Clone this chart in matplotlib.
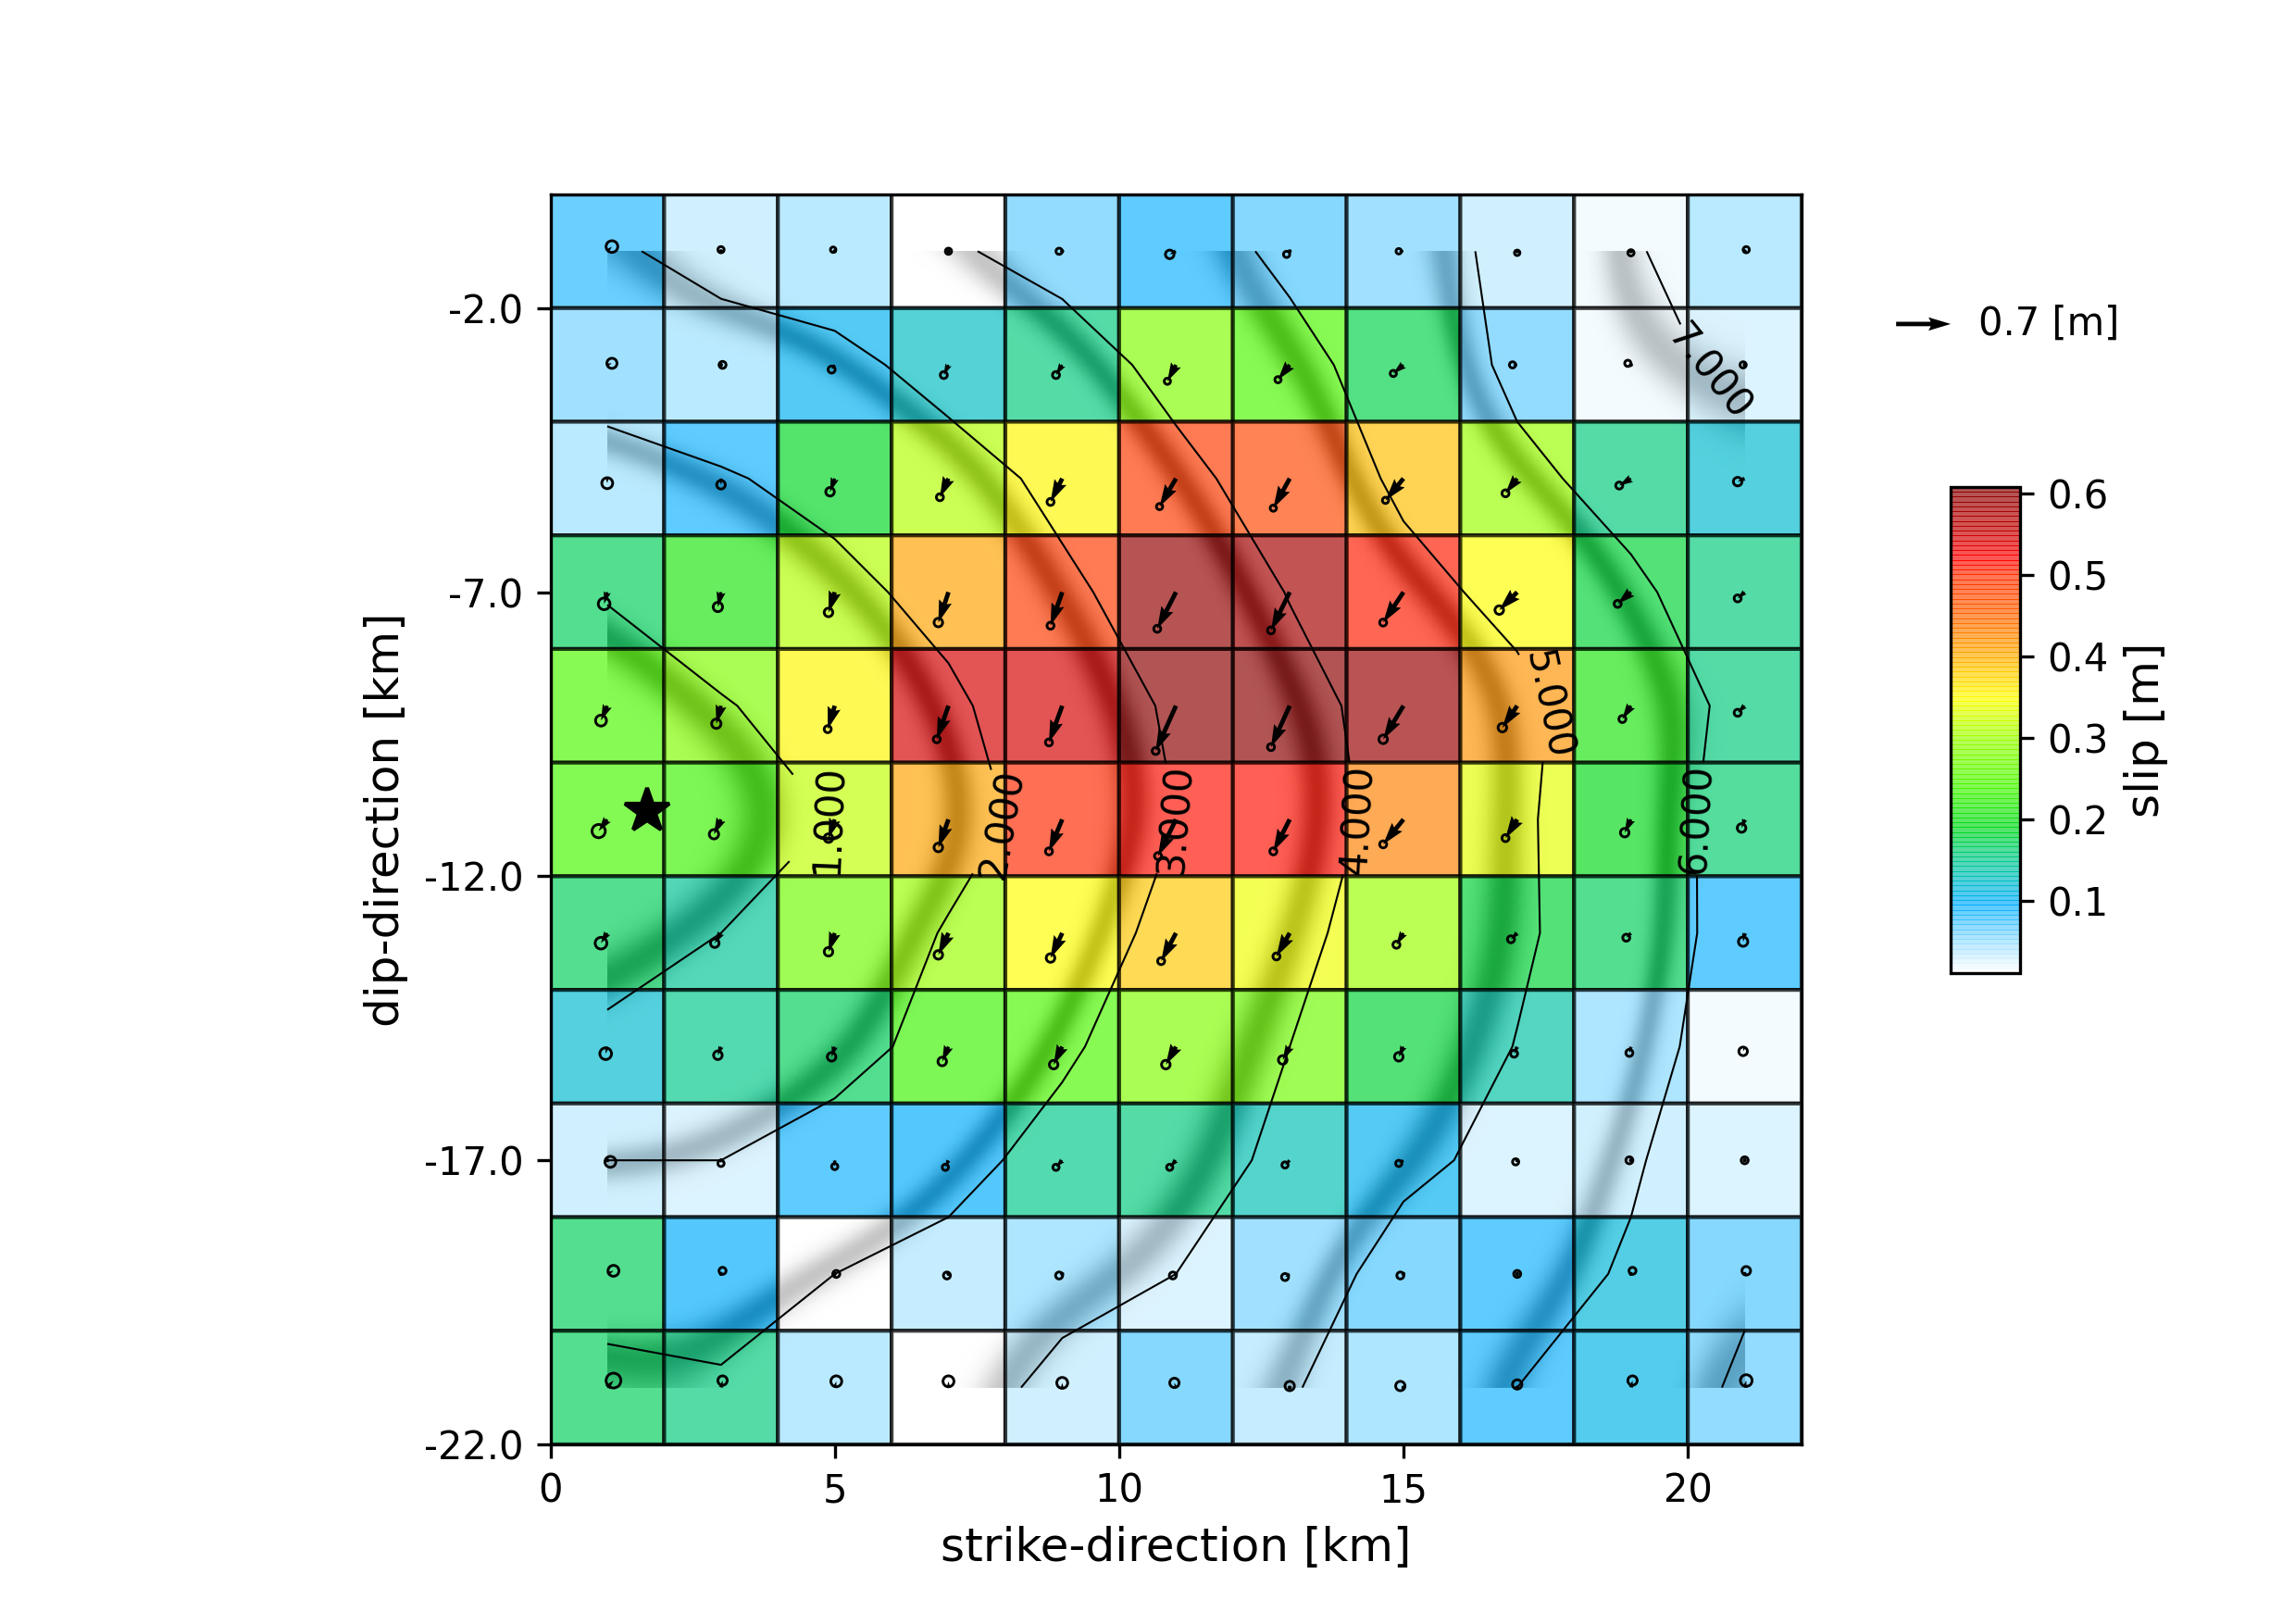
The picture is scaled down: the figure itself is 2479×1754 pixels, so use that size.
import numpy as np
import matplotlib
matplotlib.use("Agg")
import matplotlib.pyplot as plt
from matplotlib.collections import EllipseCollection
from matplotlib.colors import LinearSegmentedColormap, ListedColormap, Normalize
from matplotlib.colorbar import ColorbarBase
from matplotlib.patches import Rectangle

# patch centres [km]
strike_km = [1, 3, 5, 7, 9, 11, 13, 15, 17, 19, 21]
dip_km = [-1, -3, -5, -7, -9, -11, -13, -15, -17, -19, -21]
hypo_strike = 1.7
hypo_dip = -10.85
xtick_vals = [0, 5, 10, 15, 20]
ytick_vals = [-2, -7, -12, -17, -22]
cbar_ticks = [0.1, 0.2, 0.3, 0.4, 0.5, 0.6]

# slip per patch [m], top row first
slip = [
    [0.085, 0.040, 0.050, 0.012, 0.070, 0.090, 0.075, 0.065, 0.040, 0.020, 0.050],
    [0.060, 0.050, 0.105, 0.130, 0.160, 0.280, 0.250, 0.175, 0.070, 0.020, 0.035],
    [0.050, 0.090, 0.190, 0.310, 0.355, 0.490, 0.480, 0.390, 0.300, 0.160, 0.125],
    [0.170, 0.210, 0.310, 0.410, 0.490, 0.600, 0.580, 0.510, 0.350, 0.180, 0.155],
    [0.250, 0.280, 0.355, 0.545, 0.545, 0.605, 0.605, 0.590, 0.420, 0.210, 0.160],
    [0.240, 0.235, 0.320, 0.410, 0.505, 0.515, 0.515, 0.430, 0.335, 0.195, 0.165],
    [0.170, 0.145, 0.270, 0.300, 0.350, 0.385, 0.340, 0.300, 0.180, 0.170, 0.095],
    [0.120, 0.150, 0.170, 0.235, 0.250, 0.280, 0.270, 0.180, 0.140, 0.055, 0.020],
    [0.040, 0.035, 0.095, 0.100, 0.150, 0.155, 0.135, 0.105, 0.030, 0.040, 0.030],
    [0.170, 0.100, 0.012, 0.045, 0.055, 0.030, 0.060, 0.075, 0.090, 0.115, 0.075],
    [0.170, 0.155, 0.050, 0.012, 0.040, 0.075, 0.045, 0.055, 0.095, 0.110, 0.070],
]

# slip vector components [m]
slip_u = [
    [0.06, 0.00, -0.02, 0.00, -0.04, -0.08, -0.04, -0.06, 0.00, 0.00, 0.02],
    [0.06, 0.02, -0.04, -0.06, -0.08, -0.11, -0.15, -0.13, -0.06, -0.04, -0.02],
    [0.00, 0.00, -0.06, -0.11, -0.15, -0.21, -0.21, -0.23, -0.15, -0.15, -0.09],
    [-0.04, -0.04, -0.08, -0.13, -0.15, -0.24, -0.24, -0.26, -0.23, -0.17, -0.09],
    [-0.08, -0.06, -0.09, -0.15, -0.17, -0.26, -0.24, -0.26, -0.19, -0.11, -0.09],
    [-0.11, -0.09, -0.08, -0.13, -0.17, -0.23, -0.21, -0.26, -0.15, -0.08, -0.04],
    [-0.08, -0.08, -0.08, -0.13, -0.15, -0.19, -0.17, -0.09, -0.08, -0.06, -0.02],
    [-0.02, -0.04, -0.04, -0.08, -0.11, -0.13, -0.09, -0.06, -0.04, -0.02, -0.02],
    [0.04, 0.00, 0.00, -0.04, -0.08, -0.08, -0.06, -0.06, -0.02, -0.02, 0.00],
    [0.08, 0.02, 0.02, -0.02, -0.04, -0.04, -0.06, -0.04, 0.00, 0.02, 0.02],
    [0.08, 0.02, 0.02, 0.00, 0.00, -0.02, 0.00, -0.04, 0.00, 0.02, 0.02],
]
slip_v = [
    [0.06, 0.02, 0.02, 0.00, 0.00, -0.04, -0.04, 0.00, -0.02, -0.02, 0.02],
    [0.02, 0.00, -0.06, -0.13, -0.13, -0.21, -0.19, -0.11, 0.00, 0.02, 0.00],
    [-0.06, -0.08, -0.17, -0.24, -0.30, -0.36, -0.38, -0.28, -0.19, -0.09, -0.04],
    [-0.15, -0.19, -0.26, -0.39, -0.43, -0.47, -0.49, -0.39, -0.23, -0.15, -0.08],
    [-0.19, -0.23, -0.30, -0.43, -0.47, -0.58, -0.53, -0.43, -0.28, -0.17, -0.09],
    [-0.15, -0.19, -0.24, -0.36, -0.41, -0.47, -0.41, -0.32, -0.24, -0.17, -0.11],
    [-0.13, -0.13, -0.24, -0.28, -0.32, -0.36, -0.30, -0.15, -0.08, -0.06, -0.11],
    [-0.09, -0.11, -0.13, -0.19, -0.23, -0.23, -0.17, -0.13, -0.09, -0.08, -0.06],
    [-0.02, -0.04, -0.08, -0.09, -0.09, -0.09, -0.06, -0.04, -0.02, 0.00, 0.00],
    [0.04, 0.04, 0.00, -0.02, -0.02, -0.02, -0.04, -0.02, 0.00, 0.04, 0.04],
    [0.09, 0.09, 0.08, 0.08, 0.06, 0.06, 0.02, 0.02, 0.04, 0.09, 0.09],
]

# size of the uncertainty circle at the arrow tips [m]
slip_err = [
    [0.15, 0.08, 0.07, 0.08, 0.08, 0.11, 0.08, 0.07, 0.07, 0.08, 0.08],
    [0.13, 0.09, 0.09, 0.09, 0.09, 0.08, 0.08, 0.08, 0.08, 0.08, 0.08],
    [0.14, 0.11, 0.11, 0.09, 0.09, 0.08, 0.08, 0.08, 0.09, 0.09, 0.11],
    [0.15, 0.12, 0.11, 0.11, 0.09, 0.09, 0.09, 0.09, 0.11, 0.09, 0.09],
    [0.14, 0.12, 0.09, 0.09, 0.09, 0.09, 0.09, 0.11, 0.11, 0.09, 0.09],
    [0.17, 0.12, 0.11, 0.11, 0.09, 0.09, 0.09, 0.09, 0.09, 0.11, 0.11],
    [0.15, 0.11, 0.11, 0.11, 0.11, 0.09, 0.09, 0.09, 0.09, 0.09, 0.12],
    [0.15, 0.11, 0.11, 0.11, 0.11, 0.11, 0.11, 0.11, 0.09, 0.09, 0.11],
    [0.14, 0.08, 0.08, 0.08, 0.08, 0.08, 0.08, 0.08, 0.08, 0.09, 0.09],
    [0.14, 0.09, 0.09, 0.09, 0.09, 0.09, 0.09, 0.09, 0.09, 0.09, 0.11],
    [0.19, 0.12, 0.14, 0.14, 0.14, 0.12, 0.12, 0.12, 0.12, 0.12, 0.15],
]

# rupture onset time per patch [s]
rupture_time = [
    [2.90, 3.23, 3.56, 3.90, 4.29, 4.70, 5.13, 5.64, 6.21, 6.92, 7.50],
    [2.40, 2.68, 2.76, 3.30, 3.60, 4.25, 4.81, 5.30, 6.20, 6.85, 7.10],
    [1.66, 1.92, 2.25, 2.65, 3.20, 3.78, 4.40, 5.15, 5.80, 6.30, 6.80],
    [1.05, 1.42, 1.78, 2.25, 2.85, 3.40, 4.03, 4.75, 5.22, 5.85, 6.50],
    [0.60, 0.95, 1.30, 1.85, 2.55, 3.10, 3.75, 4.30, 4.80, 5.55, 6.20],
    [0.30, 0.60, 1.02, 1.65, 2.35, 3.00, 3.60, 4.27, 4.90, 5.45, 6.40],
    [0.75, 1.00, 1.35, 2.07, 2.45, 3.30, 3.80, 4.40, 4.90, 5.40, 6.43],
    [1.12, 1.45, 1.75, 2.24, 2.85, 3.60, 4.00, 4.55, 5.02, 5.55, 6.60],
    [2.00, 2.00, 2.30, 2.70, 3.33, 3.70, 4.15, 4.80, 5.25, 5.90, 6.65],
    [2.60, 2.60, 3.00, 3.30, 3.78, 4.00, 4.50, 5.35, 5.60, 6.10, 6.85],
    [3.25, 3.10, 3.50, 3.70, 4.17, 4.55, 4.95, 5.40, 6.00, 6.40, 7.15],
]
contour_levels = [1, 2, 3, 4, 5, 6, 7]

# colormap anchors
slip_min = 0.012
slip_max = 0.6075
cmap_vals = [0.012, 0.05, 0.095, 0.125, 0.16, 0.19, 0.24, 0.30, 0.35, 0.40, 0.45, 0.50, 0.525, 0.56, 0.6075]
cmap_cols = [(1, 1, 1), (0.58, 0.87, 1), (0, 0.68, 1), (0, 0.74, 0.77), (0, 0.80, 0.45),
             (0, 0.85, 0.10), (0.27, 0.97, 0), (0.60, 1, 0), (1, 1, 0), (1, 0.69, 0),
             (1, 0.41, 0), (1, 0.20, 0), (1, 0, 0), (0.75, 0, 0), (0.55, 0, 0)]

slip_cmap = LinearSegmentedColormap.from_list(
    "slip", [((v - slip_min) / (slip_max - slip_min), c) for v, c in zip(cmap_vals, cmap_cols)], N=100)
norm = Normalize(slip_min, slip_max)

fig = plt.figure(figsize=(2479 / 300, 1754 / 300), dpi=300)
ax = fig.add_axes([594.5 / 2479, 1 - 1560 / 1754, 1351.5 / 2479, 1350 / 1754])

edges_x = np.arange(0, 24, 2)
edges_y = np.arange(0, -24, -2)
ax.pcolor(edges_x, edges_y, np.array(slip), cmap=slip_cmap, norm=norm, alpha=0.67,
          edgecolors="k", linewidths=1.0, zorder=1)

# dark rupture front bands sit under the see-through patches
levels_t = np.linspace(0, 8, 2048)
band_alpha = np.max([0.68 * np.exp(-0.5 * ((levels_t - lev) / 0.07) ** 2) for lev in contour_levels], axis=0)
band_rgba = np.zeros((2048, 4))
band_rgba[:, 3] = band_alpha
band_cmap = ListedColormap(band_rgba)
im = ax.imshow(np.array(rupture_time), extent=[-0.6, 21.4, -22, 0], origin="upper",
               cmap=band_cmap, vmin=0, vmax=8, interpolation="bicubic",
               interpolation_stage="data", aspect="auto", zorder=0.5)
im.set_clip_path(Rectangle((1, -21), 20, 20, transform=ax.transData))

cs = ax.contour(strike_km, dip_km, np.array(rupture_time), levels=contour_levels,
                colors="k", linewidths=0.5, zorder=3)
ax.clabel(cs, fmt="%.3f", fontsize=10, inline=True, inline_spacing=2,
          manual=[(5, -11), (7.8, -11), (11.1, -11), (14.3, -11), (17.5, -9), (20.2, -11), (20.5, -3)])

# slip arrows, tips marked by the uncertainty circles
km_per_m = 1.372
xx, yy = np.meshgrid(strike_km, dip_km)
uu = np.array(slip_u)
vv = np.array(slip_v)
q = ax.quiver(xx, yy, uu, vv, angles="xy", scale_units="xy", scale=1 / km_per_m,
              units="inches", width=0.016, zorder=4)
tips = np.column_stack([(xx + uu * km_per_m).ravel(), (yy + vv * km_per_m).ravel()])
dia = np.array(slip_err).ravel() * km_per_m
ec = EllipseCollection(dia, dia, np.zeros(dia.size), units="xy", offsets=tips,
                       offset_transform=ax.transData, facecolors="none",
                       edgecolors="k", linewidths=0.7, zorder=5)
ax.add_collection(ec)
ax.quiverkey(q, 0.850, 0.8005, 0.7, "0.7 [m]", coordinates="figure", labelpos="E",
             fontproperties={"size": 10})

ax.plot(hypo_strike, hypo_dip, marker="*", color="k", markersize=12, zorder=6)

ax.set_xlim(0, 22)
ax.set_ylim(-22, 0)
ax.set_xticks(xtick_vals)
ax.set_yticks(ytick_vals)
ax.set_yticklabels(["%.1f" % v for v in ytick_vals])
ax.tick_params(labelsize=10)
ax.set_xlabel("strike-direction [km]", fontsize=12)
ax.set_ylabel("dip-direction [km]", fontsize=12)

cax = fig.add_axes([2107 / 2479, 1 - 1051 / 1754, 75 / 2479, 525 / 1754])
cb = ColorbarBase(cax, cmap=slip_cmap, norm=norm, alpha=0.67, ticks=cbar_ticks)
cb.solids.set_edgecolor("face")
cb.solids.set_linewidth(0.2)
cb.ax.tick_params(labelsize=10)
cb.set_label("slip [m]", fontsize=12)

fig.savefig("out.png", dpi=300)
